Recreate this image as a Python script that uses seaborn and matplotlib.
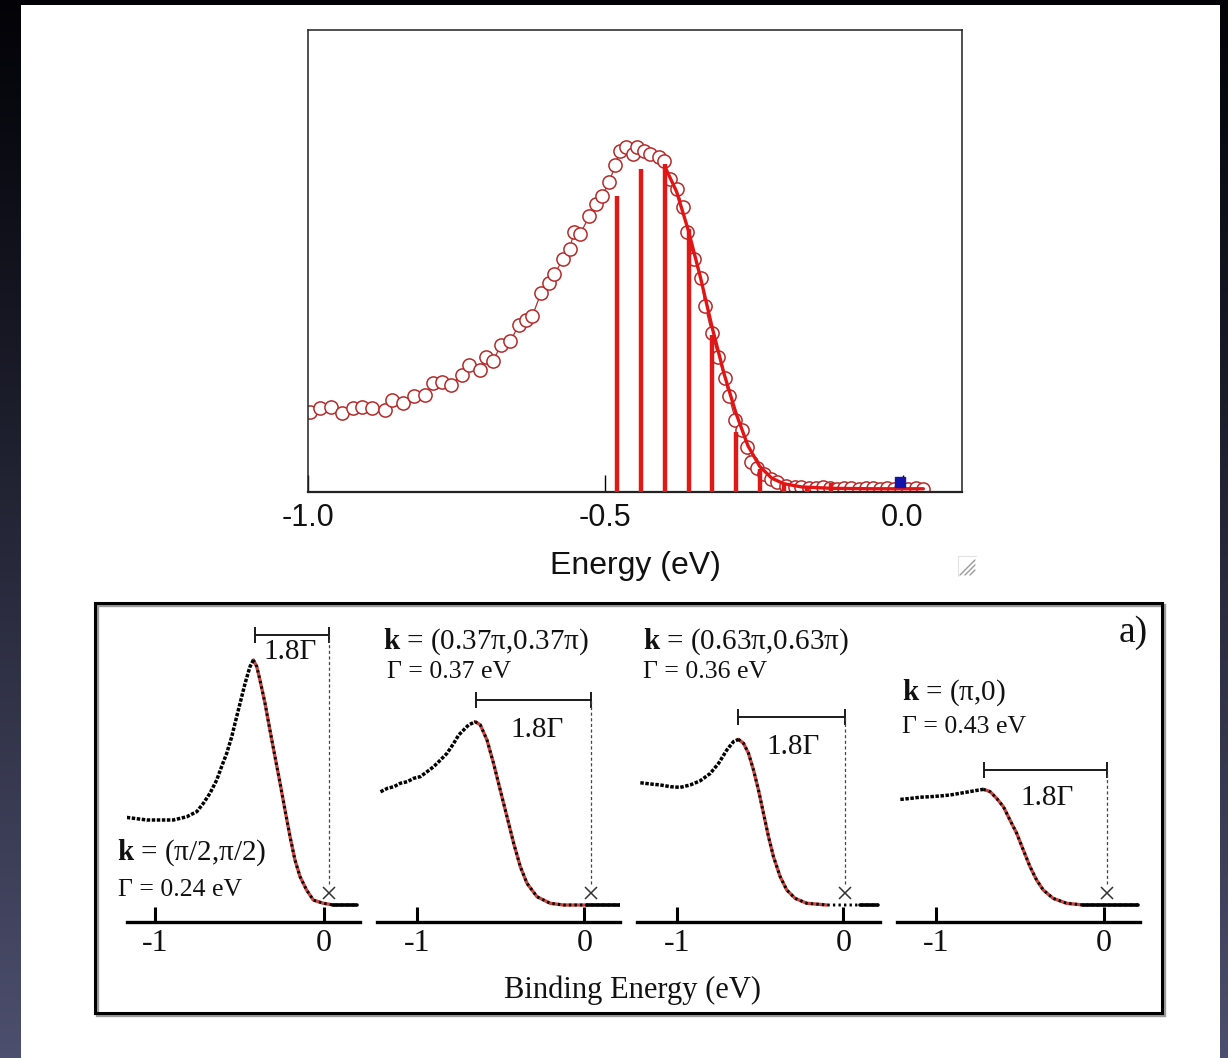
import numpy as np
import matplotlib
matplotlib.use("Agg")
import matplotlib.pyplot as plt
import seaborn as sns
from matplotlib.patches import Rectangle
from matplotlib.lines import Line2D

# ---------------- data: top panel (EDC with fit) ----------------
top_energy = [-0.997, -0.980, -0.962, -0.943, -0.925, -0.910, -0.892, -0.870, -0.859, -0.840,
              -0.822, -0.803, -0.789, -0.774, -0.759, -0.741, -0.730, -0.711, -0.700, -0.689,
              -0.675, -0.660, -0.645, -0.634, -0.623, -0.608, -0.594, -0.586, -0.571, -0.560,
              -0.553, -0.542, -0.527, -0.516, -0.505, -0.494, -0.483, -0.476, -0.465, -0.454,
              -0.446, -0.435, -0.424, -0.409, -0.402, -0.391, -0.380, -0.369, -0.362, -0.351,
              -0.339, -0.332, -0.321, -0.310, -0.299, -0.292, -0.281, -0.270, -0.262, -0.255,
              -0.244, -0.233, -0.222, -0.211, -0.196, -0.181,
              -0.170, -0.158, -0.146, -0.134, -0.122, -0.110, -0.098, -0.086, -0.074, -0.062,
              -0.050, -0.038, -0.026, -0.014, -0.002, 0.010, 0.022, 0.034]
top_intensity = [0.174, 0.181, 0.185, 0.170, 0.181, 0.185, 0.181, 0.178, 0.199, 0.192,
                 0.207, 0.210, 0.236, 0.239, 0.232, 0.254, 0.275, 0.264, 0.293, 0.283,
                 0.319, 0.326, 0.362, 0.373, 0.380, 0.431, 0.453, 0.471, 0.504, 0.525,
                 0.562, 0.558, 0.598, 0.623, 0.641, 0.670, 0.707, 0.739, 0.746, 0.732,
                 0.746, 0.739, 0.732, 0.725, 0.717, 0.678, 0.656, 0.616, 0.562, 0.504,
                 0.464, 0.402, 0.344, 0.293, 0.246, 0.207, 0.156, 0.134, 0.098, 0.065,
                 0.051, 0.040, 0.029, 0.022, 0.014, 0.011,
                 0.010, 0.009, 0.008, 0.010, 0.008, 0.007, 0.009, 0.008, 0.007, 0.008,
                 0.009, 0.007, 0.008, 0.006, 0.009, 0.007, 0.008, 0.006]
fit_energy = [-0.400, -0.380, -0.360, -0.340, -0.320, -0.300, -0.280, -0.260, -0.240, -0.220,
              -0.200, -0.170, -0.120, -0.050, 0.000, 0.035]
fit_intensity = [0.705, 0.650, 0.565, 0.465, 0.355, 0.255, 0.170, 0.100, 0.055, 0.030,
                 0.018, 0.011, 0.008, 0.007, 0.007, 0.007]
stick_energy = [-0.48, -0.44, -0.40, -0.36, -0.32, -0.28, -0.24, -0.20, -0.16, -0.12]
stick_height = [0.64, 0.70, 0.71, 0.57, 0.34, 0.13, 0.05, 0.02, 0.012, 0.02]
fermi_marker = (-0.005, 0.022)
top_ticks = [-1.0, -0.5, 0.0]
top_ticklabels = ["-1.0", "-0.5", "0.0"]

# ---------------- data: bottom panels (four k points) ----------------
p1_x = [-1.197, -1.128, -1.049, -0.970, -0.892, -0.813, -0.753, -0.714, -0.675, -0.635,
        -0.606, -0.576, -0.546, -0.527, -0.497, -0.467, -0.438, -0.418, -0.398, -0.379,
        -0.349, -0.320, -0.290, -0.260, -0.231, -0.201, -0.172, -0.142, -0.103, -0.063,
        -0.004, 0.055, 0.193]
p1_y = [0.360, 0.354, 0.347, 0.347, 0.347, 0.360, 0.381, 0.415, 0.456, 0.510,
        0.565, 0.619, 0.687, 0.741, 0.823, 0.905, 0.973, 1.000, 0.973, 0.918,
        0.823, 0.714, 0.605, 0.497, 0.388, 0.279, 0.184, 0.116, 0.061, 0.020,
        0.007, 0.0, 0.0]
p2_x = [-1.218, -1.178, -1.138, -1.099, -1.059, -1.020, -0.980, -0.940, -0.900, -0.860,
        -0.821, -0.781, -0.751, -0.722, -0.692, -0.652, -0.622, -0.582, -0.543, -0.503,
        -0.463, -0.423, -0.383, -0.343, -0.284, -0.205, -0.125, 0.014, 0.213]
p2_y = [0.462, 0.476, 0.483, 0.497, 0.503, 0.517, 0.524, 0.544, 0.565, 0.592,
        0.619, 0.660, 0.694, 0.714, 0.735, 0.748, 0.735, 0.673, 0.578, 0.469,
        0.361, 0.252, 0.156, 0.088, 0.034, 0.007, 0.0, 0.0, 0.0]
p3_x = [-1.22, -1.16, -1.10, -1.04, -0.98, -0.92, -0.86, -0.80, -0.75, -0.70,
        -0.66, -0.63, -0.60, -0.57, -0.54, -0.51, -0.48, -0.45, -0.42, -0.38,
        -0.34, -0.29, -0.22, -0.10, 0.10, 0.21]
p3_y = [0.499, 0.494, 0.490, 0.483, 0.480, 0.490, 0.507, 0.537, 0.578, 0.633,
        0.667, 0.676, 0.660, 0.619, 0.551, 0.469, 0.374, 0.279, 0.197, 0.116,
        0.061, 0.027, 0.007, 0.0, 0.0, 0.0]
p4_x = [-1.214, -1.155, -1.095, -1.036, -0.976, -0.917, -0.857, -0.798, -0.748, -0.718,
        -0.679, -0.639, -0.599, -0.560, -0.520, -0.480, -0.440, -0.401, -0.361, -0.302,
        -0.222, -0.123, 0.205]
p4_y = [0.431, 0.435, 0.440, 0.442, 0.445, 0.449, 0.456, 0.463, 0.469, 0.472,
        0.463, 0.435, 0.401, 0.347, 0.293, 0.224, 0.156, 0.102, 0.061, 0.027,
        0.007, 0.0, 0.0]
panel_x = [p1_x, p2_x, p3_x, p4_x]
panel_y = [p1_y, p2_y, p3_y, p4_y]
peak_index = [17, 15, 11, 9]
k_labels = ["(π/2,π/2)", "(0.37π,0.37π)", "(0.63π,0.63π)", "(π,0)"]
gamma_labels = ["Γ = 0.24 eV", "Γ = 0.37 eV", "Γ = 0.36 eV", "Γ = 0.43 eV"]
bracket_left = [-0.41, -0.65, -0.633, -0.712]
bracket_right = [0.03, 0.04, 0.01, 0.02]
bracket_level = [1.102, 0.837, 0.769, 0.551]
bottom_ticks = [-1, 0]
bottom_ticklabels = ["-1", "0"]

# ---------------- style ----------------
sns.set_theme(style="white")
plt.rcParams['font.family'] = ['Liberation Serif', 'DejaVu Serif']
plt.rcParams['mathtext.fontset'] = 'custom'
plt.rcParams['mathtext.rm'] = 'Liberation Serif'
plt.rcParams['mathtext.bf'] = 'Liberation Serif:bold'
SANS = ['Liberation Sans', 'DejaVu Sans']

W, H = 1228, 1058
fig = plt.figure(figsize=(W / 100, H / 100), dpi=100)


def rect(l, t, r, b):
    return [l / W, 1 - b / H, (r - l) / W, (b - t) / H]


def fx(px):
    return px / W


def fy(py):
    return 1 - py / H


# background: dark slide frame with bluish gradient, white page
bg = fig.add_axes([0, 0, 1, 1], zorder=-10)
t = np.linspace(0, 1, 300)[:, None]
c_top = np.array([0.01, 0.01, 0.03])
c_bot = np.array([0.30, 0.31, 0.43])
img = c_top[None, :] + (c_bot - c_top)[None, :] * (t ** 1.1)
bg.imshow(img[:, None, :], aspect='auto', extent=[0, 1, 0, 1], origin='upper')
bg.add_patch(Rectangle((21 / W, 0), (1220 - 21) / W, (H - 5) / H, facecolor='white',
                       edgecolor='none', transform=bg.transAxes))
# window resize grip
for d in (0, 5, 10):
    bg.add_line(Line2D([fx(960 + d), fx(975)], [fy(575), fy(560 + d)], color='#9a9a9a', lw=1.0))
bg.add_line(Line2D([fx(958), fx(958), fx(976)], [fy(576), fy(556), fy(556)], color='#e2e2e2', lw=0.8))
bg.set_xlim(0, 1)
bg.set_ylim(0, 1)
bg.set_axis_off()

# ---------------- top panel ----------------
ax = fig.add_axes(rect(308, 30, 962, 492))
ax.set_facecolor('white')
sns.lineplot(x=top_energy, y=top_intensity, ax=ax, sort=False, estimator=None,
             color='#a83232', lw=0.9, marker='o', markersize=9.5,
             markerfacecolor='white', markeredgecolor='#b52a2a', markeredgewidth=1.1, zorder=2)
ax.vlines(stick_energy, 0, stick_height, colors='#e01818', lw=3.2, zorder=3)
sns.lineplot(x=fit_energy, y=fit_intensity, ax=ax, sort=False, estimator=None,
             color='#e41414', lw=2.4, zorder=4)
ax.plot([fermi_marker[0]], [fermi_marker[1]], marker='s', ms=6.5, color='#1414a8',
        ls='none', zorder=5)
ax.set_xlim(-1.0, 0.1)
ax.set_ylim(0, 1)
ax.set_xticks(top_ticks)
ax.set_xticklabels(top_ticklabels, family=SANS, fontsize=22, color='#111111')
ax.set_yticks([])
ax.tick_params(axis='x', bottom=True, direction='in', length=12, width=1.0, pad=8, color='black')
for s in ax.spines.values():
    s.set_visible(True)
    s.set_color('#222222')
    s.set_linewidth(1.1)
ax.spines['bottom'].set_linewidth(1.6)
ax.set_xlabel('')
ax.set_ylabel('')
fig.text(fx(635), fy(566), "Energy (eV)", family=SANS, fontsize=23, ha='center', va='center',
         color='#111111')

# ---------------- bottom boxed figure ----------------
box_l, box_t, box_r, box_b = 95, 603, 1162, 1013
bg.add_patch(Rectangle((fx(box_l + 2), fy(box_b + 2)), (box_r - box_l) / W, (box_b - box_t) / H,
                       facecolor='none', edgecolor='#9a9a9a', lw=2.4, transform=bg.transAxes))
bg.add_patch(Rectangle((fx(box_l), fy(box_b)), (box_r - box_l) / W, (box_b - box_t) / H,
                       facecolor='none', edgecolor='black', lw=2.2, transform=bg.transAxes))

panel_px = [(127, 360, (-1.166, 0.213)), (377, 620, (-1.239, 0.212)),
            (637, 880, (-1.24, 0.22)), (897, 1140, (-1.234, 0.216))]
ylim = (-17 / 245, 322 / 245 - 17 / 245)

for i in range(4):
    l, r, xl = panel_px[i]
    a = fig.add_axes(rect(l, 600, r, 922))
    a.patch.set_alpha(0)
    xs, ys = panel_x[i], panel_y[i]
    pk = peak_index[i]
    fx_ = [v for v in xs[pk:] if v <= 0.06]
    fy_ = ys[pk:pk + len(fx_)]
    sns.lineplot(x=fx_, y=fy_, ax=a, sort=False, estimator=None, color='#c8463f', lw=2.4, zorder=2)
    sns.lineplot(x=xs[:pk + 1], y=ys[:pk + 1], ax=a, sort=False, estimator=None, color='black',
                 lw=2.5, linestyle=(0, (1.0, 0.45)), zorder=3)
    sns.lineplot(x=xs[pk:], y=ys[pk:], ax=a, sort=False, estimator=None, color='black', lw=2.1,
                 linestyle=(0, (0.8, 1.1)), zorder=3)
    sns.lineplot(x=xs[-2:], y=ys[-2:], ax=a, sort=False, estimator=None, color='black', lw=2.6,
                 zorder=3)
    bl, br, bh = bracket_left[i], bracket_right[i], bracket_level[i]
    a.plot([bl, br], [bh, bh], color='#1a1a1a', lw=1.4, zorder=4)
    a.plot([bl, br], [bh, bh], ls='none', marker='|', ms=11, mew=1.4, color='#1a1a1a', zorder=4)
    a.plot([br, br], [0.085, bh], color='#444444', lw=0.9, ls=(0, (2.5, 2)), zorder=4)
    a.plot([br], [0.05], ls='none', marker='x', ms=9, mew=1.1, color='#333333', zorder=4)
    a.set_xlim(*xl)
    a.set_ylim(*ylim)
    a.set_xticks(bottom_ticks)
    a.set_xticklabels(bottom_ticklabels, fontsize=23, color='#111111')
    a.set_yticks([])
    a.tick_params(axis='x', bottom=True, direction='in', length=11, width=2.2, pad=5,
                  color='black')
    for sname, s in a.spines.items():
        s.set_visible(sname == 'bottom')
    a.spines['bottom'].set_linewidth(2.4)
    a.spines['bottom'].set_color('black')
    a.set_xlabel('')
    a.set_ylabel('')

# annotations of the four panels
k_pos = [(117, 853), (383, 642), (643, 642), (902, 693)]
g_pos = [(118, 890), (387, 672), (643, 672), (902, 727)]
f_pos = [(290, 652), (537, 730), (793, 747), (1047, 798)]
for i in range(4):
    fig.text(fx(k_pos[i][0]), fy(k_pos[i][1]), r"$\mathbf{k}$ = " + k_labels[i], fontsize=21,
             ha='left', va='center', color='#111111')
    fig.text(fx(g_pos[i][0]), fy(g_pos[i][1]), gamma_labels[i], fontsize=18.5,
             ha='left', va='center', color='#111111')
    fig.text(fx(f_pos[i][0]), fy(f_pos[i][1]), "1.8Γ", fontsize=21,
             ha='center', va='center', color='#111111')
fig.text(fx(1119), fy(633), "a)", fontsize=27, ha='left', va='center', color='#111111')
fig.text(fx(633), fy(990), "Binding Energy (eV)", fontsize=22, ha='center', va='center',
         color='#111111')

fig.savefig("out.png", dpi=100)
